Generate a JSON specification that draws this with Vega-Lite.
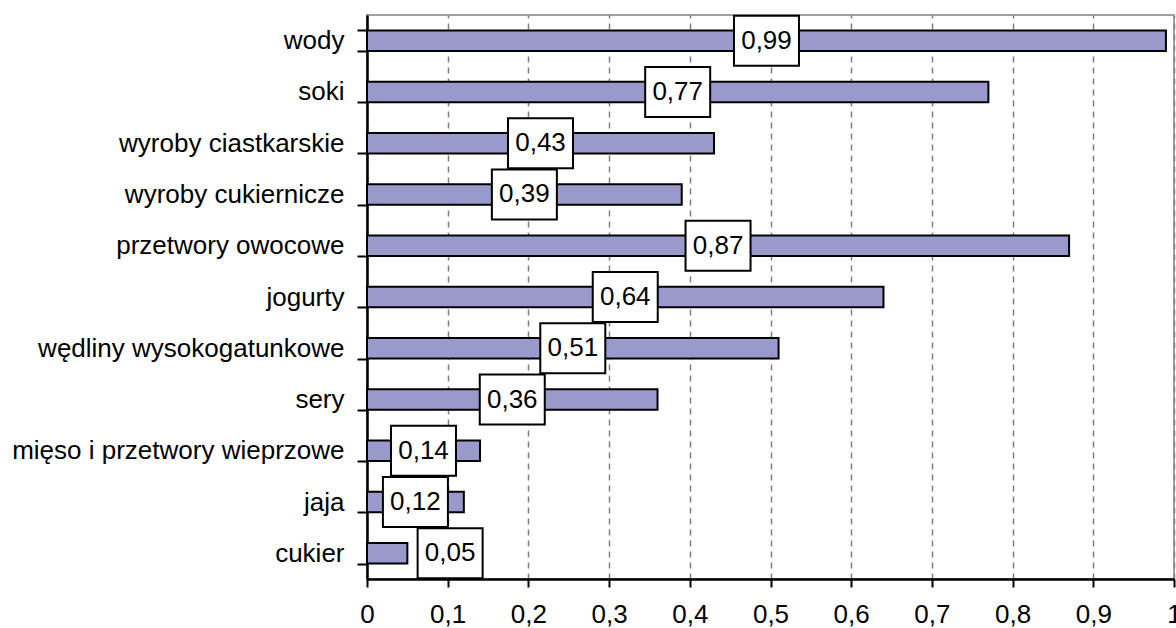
{
  "$schema": "https://vega.github.io/schema/vega-lite/v6.json",
  "width": 807,
  "height": 564,
  "autosize": {"type": "none"},
  "padding": {"left": 367, "top": 15, "right": 2, "bottom": 49},
  "background": "white",
  "config": {
    "font": "Liberation Sans",
    "view": {"stroke": "#a0a0a0", "strokeWidth": 2},
    "locale": {"number": {"decimal": ",", "thousands": " ", "grouping": [3], "currency": ["", " zł"]}}
  },
  "data": {
    "values": [
      {"kategoria": "wody", "wartosc": 0.99},
      {"kategoria": "soki", "wartosc": 0.77},
      {"kategoria": "wyroby ciastkarskie", "wartosc": 0.43},
      {"kategoria": "wyroby cukiernicze", "wartosc": 0.39},
      {"kategoria": "przetwory owocowe", "wartosc": 0.87},
      {"kategoria": "jogurty", "wartosc": 0.64},
      {"kategoria": "wędliny wysokogatunkowe", "wartosc": 0.51},
      {"kategoria": "sery", "wartosc": 0.36},
      {"kategoria": "mięso i przetwory wieprzowe", "wartosc": 0.14},
      {"kategoria": "jaja", "wartosc": 0.12},
      {"kategoria": "cukier", "wartosc": 0.05}
    ]
  },
  "encoding": {
    "y": {
      "field": "kategoria",
      "type": "nominal",
      "sort": null,
      "scale": {"paddingInner": 0.6, "paddingOuter": 0.3},
      "axis": {
        "title": null,
        "grid": false,
        "domainColor": "black",
        "domainWidth": 2.5,
        "tickColor": "black",
        "tickWidth": 2,
        "tickSize": 10,
        "tickBand": "extent",
        "labelFontSize": 26,
        "labelColor": "black",
        "labelPadding": 13,
        "labelLimit": 400
      }
    }
  },
  "layer": [
    {
      "mark": {"type": "bar", "fill": "#9999cc", "stroke": "black", "strokeWidth": 2},
      "encoding": {
        "x": {
          "field": "wartosc",
          "type": "quantitative",
          "scale": {"domain": [0, 1], "nice": false},
          "axis": {
            "title": null,
            "values": [0, 0.1, 0.2, 0.3, 0.4, 0.5, 0.6, 0.7, 0.8, 0.9, 1],
            "format": ".1~f",
            "grid": true,
            "gridColor": "#808080",
            "gridDash": [6, 5],
            "gridWidth": 1.5,
            "domainColor": "black",
            "domainWidth": 2.5,
            "tickColor": "black",
            "tickWidth": 2,
            "tickSize": 8,
            "labelFontSize": 26,
            "labelColor": "black",
            "labelPadding": 14,
            "labelFlush": false,
            "labelOverlap": false
          }
        }
      }
    },
    {
      "transform": [{"calculate": "datum.wartosc < 0.1 ? 0.103 : datum.wartosc / 2", "as": "pozycja"}],
      "mark": {
        "type": "point",
        "shape": "M-1.3,-1H1.3V1H-1.3Z",
        "size": 2500,
        "filled": true,
        "fill": "white",
        "stroke": "black",
        "strokeWidth": 2,
        "opacity": 1
      },
      "encoding": {"x": {"field": "pozycja", "type": "quantitative"}}
    },
    {
      "transform": [{"calculate": "datum.wartosc < 0.1 ? 0.103 : datum.wartosc / 2", "as": "pozycja"}],
      "mark": {"type": "text", "fontSize": 26, "color": "black", "baseline": "middle", "align": "center"},
      "encoding": {
        "x": {"field": "pozycja", "type": "quantitative"},
        "text": {"field": "wartosc", "type": "quantitative", "format": ".2f"}
      }
    }
  ]
}
